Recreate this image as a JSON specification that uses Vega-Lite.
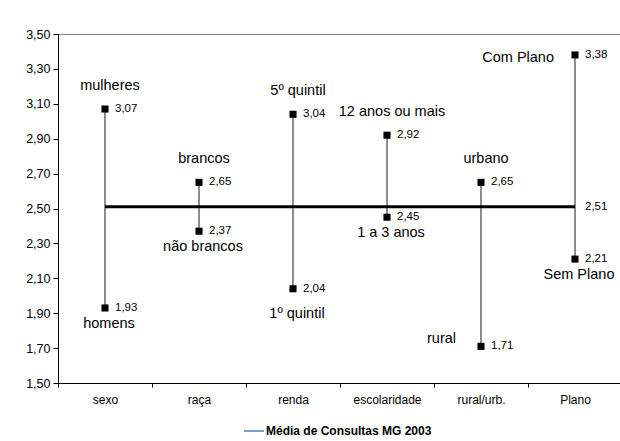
{
  "$schema": "https://vega.github.io/schema/vega-lite/v6.json",
  "width": 564,
  "height": 349,
  "autosize": {"type": "none"},
  "padding": {"left": 58, "top": 34, "right": 0, "bottom": 58},
  "background": "white",
  "config": {
    "locale": {"number": {"decimal": ",", "thousands": ".", "grouping": [3], "currency": ["R$", ""]}},
    "view": {"stroke": "#808080", "strokeWidth": 1},
    "font": "Arial, 'Liberation Sans', sans-serif",
    "text": {"font": "Arial, 'Liberation Sans', sans-serif"},
    "axis": {"labelFont": "Arial, 'Liberation Sans', sans-serif"},
    "axisY": {"labelOverlap": false},
    "legend": {"labelFont": "Arial, 'Liberation Sans', sans-serif"}
  },
  "datasets": {
    "pontos": [
      {"categoria": "sexo", "grupo": "alto", "rotulo": "mulheres", "valor": 3.07},
      {"categoria": "sexo", "grupo": "baixo", "rotulo": "homens", "valor": 1.93},
      {"categoria": "raça", "grupo": "alto", "rotulo": "brancos", "valor": 2.65},
      {"categoria": "raça", "grupo": "baixo", "rotulo": "não brancos", "valor": 2.37},
      {"categoria": "renda", "grupo": "alto", "rotulo": "5º quintil", "valor": 3.04},
      {"categoria": "renda", "grupo": "baixo", "rotulo": "1º quintil", "valor": 2.04},
      {"categoria": "escolaridade", "grupo": "alto", "rotulo": "12 anos ou mais", "valor": 2.92},
      {"categoria": "escolaridade", "grupo": "baixo", "rotulo": "1 a 3 anos", "valor": 2.45},
      {"categoria": "rural/urb.", "grupo": "alto", "rotulo": "urbano", "valor": 2.65},
      {"categoria": "rural/urb.", "grupo": "baixo", "rotulo": "rural", "valor": 1.71},
      {"categoria": "Plano", "grupo": "alto", "rotulo": "Com Plano", "valor": 3.38},
      {"categoria": "Plano", "grupo": "baixo", "rotulo": "Sem Plano", "valor": 2.21}
    ],
    "media": [
      {"inicio": "sexo", "fim": "Plano", "valor": 2.51, "serie": "Média de Consultas MG 2003"}
    ]
  },
  "resolve": {"scale": {"x": "shared", "y": "shared"}},
  "layer": [
    {
      "data": {"name": "pontos"},
      "mark": {"type": "rule", "color": "#404040", "strokeWidth": 1.2},
      "encoding": {
        "x": {"field": "categoria", "type": "nominal",
          "scale": {"type": "band", "domain": ["sexo", "raça", "renda", "escolaridade", "rural/urb.", "Plano"], "paddingInner": 0, "paddingOuter": 0},
          "axis": {"title": null, "tickBand": "extent", "labelAngle": 0, "labelFontSize": 12, "labelColor": "black", "domainColor": "black", "tickColor": "black", "tickSize": 4, "labelPadding": 7}},
        "y": {"aggregate": "min", "field": "valor", "type": "quantitative",
          "scale": {"domain": [1.5, 3.5], "nice": false, "zero": false}},
        "y2": {"aggregate": "max", "field": "valor"}
      }
    },
    {
      "data": {"name": "media"},
      "mark": {"type": "rule", "strokeWidth": 3, "color": "black"},
      "encoding": {
        "x": {"field": "inicio", "type": "nominal"},
        "x2": {"field": "fim"},
        "y": {"field": "valor", "type": "quantitative"}
      }
    },
    {
      "data": {"name": "media"},
      "mark": {"type": "rule", "opacity": 0},
      "encoding": {
        "x": {"field": "inicio", "type": "nominal"},
        "x2": {"field": "fim"},
        "y": {"field": "valor", "type": "quantitative"},
        "color": {"field": "serie", "type": "nominal", "scale": {"range": ["#4a7ebb"]},
          "legend": {"orient": "none", "legendX": 185, "legendY": 386, "title": null, "labelFontWeight": "bold", "labelFontSize": 12, "labelColor": "black", "labelLimit": 400, "symbolType": "stroke", "symbolSize": 400, "symbolStrokeWidth": 1.5, "symbolOpacity": 1, "labelOffset": 1}}
      }
    },
    {
      "data": {"name": "media"},
      "mark": {"type": "text", "align": "left", "baseline": "middle", "dx": 10, "fontSize": 11.5, "color": "black"},
      "encoding": {
        "x": {"field": "fim", "type": "nominal"},
        "y": {"field": "valor", "type": "quantitative"},
        "text": {"field": "valor", "type": "quantitative", "format": ".2f"}
      }
    },
    {
      "data": {"name": "pontos"},
      "mark": {"type": "point", "shape": "square", "filled": true, "color": "black", "size": 50, "opacity": 1},
      "encoding": {
        "x": {"field": "categoria", "type": "nominal"},
        "y": {"field": "valor", "type": "quantitative",
          "axis": {"title": null, "values": [1.5, 1.7, 1.9, 2.1, 2.3, 2.5, 2.7, 2.9, 3.1, 3.3, 3.5], "tickCount": 20, "format": ".2f", "grid": false, "labelOverlap": false, "labelFontSize": 12.5, "labelColor": "black", "domainColor": "black", "tickColor": "black", "tickSize": 5, "labelPadding": 3}}
      }
    },
    {
      "data": {"name": "pontos"},
      "mark": {"type": "text", "align": "left", "baseline": "middle", "dx": 10, "fontSize": 11.5, "color": "black"},
      "encoding": {
        "x": {"field": "categoria", "type": "nominal"},
        "y": {"field": "valor", "type": "quantitative"},
        "text": {"field": "valor", "type": "quantitative", "format": ".2f"}
      }
    },
    {
      "data": {"name": "pontos"},
      "transform": [{"filter": "datum.grupo == 'alto' && datum.categoria != 'Plano'"}],
      "mark": {"type": "text", "align": "center", "baseline": "middle", "dx": 5, "dy": -23, "fontSize": 14.5, "color": "black"},
      "encoding": {
        "x": {"field": "categoria", "type": "nominal"},
        "y": {"field": "valor", "type": "quantitative"},
        "text": {"field": "rotulo"}
      }
    },
    {
      "data": {"name": "pontos"},
      "transform": [{"filter": "datum.grupo == 'baixo' && datum.categoria != 'rural/urb.' && datum.categoria != 'renda'"}],
      "mark": {"type": "text", "align": "center", "baseline": "middle", "dx": 4, "dy": 16, "fontSize": 14.5, "color": "black"},
      "encoding": {
        "x": {"field": "categoria", "type": "nominal"},
        "y": {"field": "valor", "type": "quantitative"},
        "text": {"field": "rotulo"}
      }
    },
    {
      "data": {"name": "pontos"},
      "transform": [{"filter": "datum.grupo == 'baixo' && datum.categoria == 'renda'"}],
      "mark": {"type": "text", "align": "center", "baseline": "middle", "dx": 4, "dy": 25, "fontSize": 14.5, "color": "black"},
      "encoding": {
        "x": {"field": "categoria", "type": "nominal"},
        "y": {"field": "valor", "type": "quantitative"},
        "text": {"field": "rotulo"}
      }
    },
    {
      "data": {"name": "pontos"},
      "transform": [{"filter": "datum.grupo == 'alto' && datum.categoria == 'Plano'"}],
      "mark": {"type": "text", "align": "right", "baseline": "middle", "dx": -21, "dy": 3, "fontSize": 14.5, "color": "black"},
      "encoding": {
        "x": {"field": "categoria", "type": "nominal"},
        "y": {"field": "valor", "type": "quantitative"},
        "text": {"field": "rotulo"}
      }
    },
    {
      "data": {"name": "pontos"},
      "transform": [{"filter": "datum.grupo == 'baixo' && datum.categoria == 'rural/urb.'"}],
      "mark": {"type": "text", "align": "right", "baseline": "middle", "dx": -25, "dy": -7, "fontSize": 14.5, "color": "black"},
      "encoding": {
        "x": {"field": "categoria", "type": "nominal"},
        "y": {"field": "valor", "type": "quantitative"},
        "text": {"field": "rotulo"}
      }
    }
  ]
}
